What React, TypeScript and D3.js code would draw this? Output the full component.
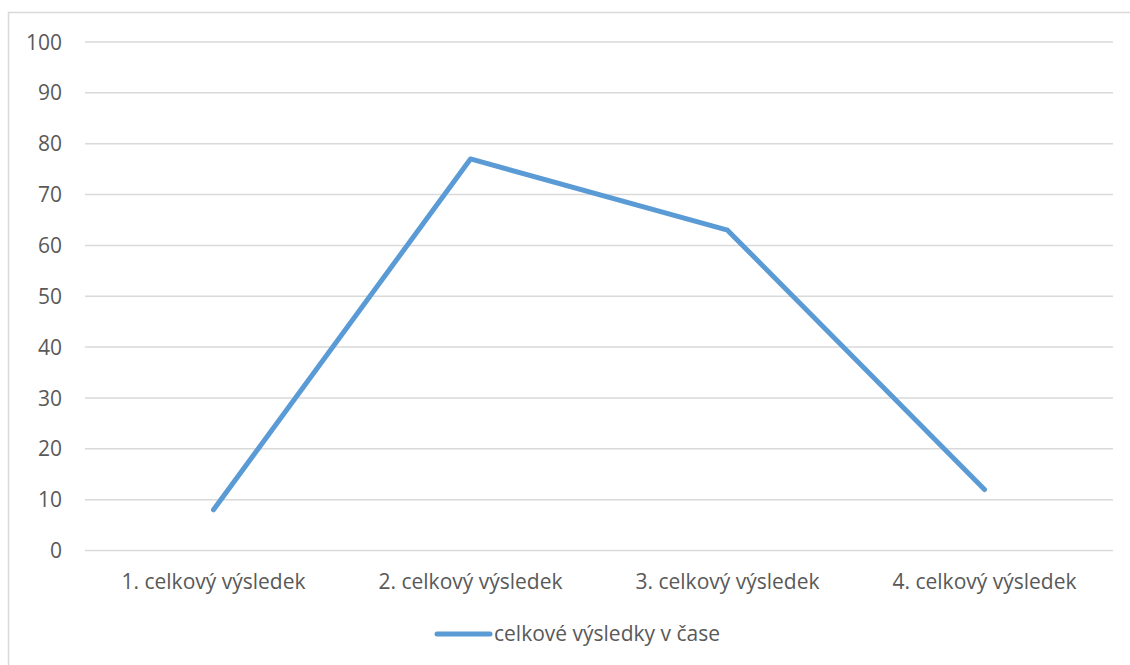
import React from "react";
import * as d3 from "d3";

const categories: string[] = [
  "1. celkový výsledek",
  "2. celkový výsledek",
  "3. celkový výsledek",
  "4. celkový výsledek",
];
const values: number[] = [8, 77, 63, 12];
const yTicks: number[] = [0, 10, 20, 30, 40, 50, 60, 70, 80, 90, 100];
const seriesName = "celkové výsledky v čase";

const W = 1130;
const H = 665;
const plot = { left: 85, right: 1113, top: 42, bottom: 550.5 };
const FONT = "'Open Sans', 'Noto Sans', sans-serif";
const TEXT = "#595959";
const BLUE = "#5B9BD5";
const FS = 21;

export default function App() {
  const x = d3
    .scaleBand<string>()
    .domain(categories)
    .range([plot.left, plot.right]);
  const y = d3.scaleLinear().domain([0, 100]).range([plot.bottom, plot.top]);
  const line = d3
    .line<number>()
    .x((_, i) => (x(categories[i]) as number) + x.bandwidth() / 2)
    .y((d) => y(d));

  return (
    <svg
      width={W}
      height={H}
      style={{ position: "absolute", left: 0, top: 0, background: "#fff" }}
      fontFamily={FONT}
    >
      <rect x={8.5} y={12.5} width={W} height={H} fill="#fff" stroke="#d9d9d9" strokeWidth={1.5} />
      {yTicks.map((t) => (
        <g key={t}>
          <line x1={plot.left} x2={plot.right} y1={y(t)} y2={y(t)} stroke="#d9d9d9" strokeWidth={1.5} />
          <text x={62} y={y(t)} dy="0.36em" textAnchor="end" fontSize={FS} fill={TEXT}>
            {t}
          </text>
        </g>
      ))}
      {categories.map((c) => (
        <text
          key={c}
          x={(x(c) as number) + x.bandwidth() / 2}
          y={589}
          textAnchor="middle"
          fontSize={FS}
          fill={TEXT}
        >
          {c}
        </text>
      ))}
      <path d={line(values) || ""} fill="none" stroke={BLUE} strokeWidth={5} strokeLinecap="round" strokeLinejoin="round" />
      <line x1={437} x2={490} y1={634} y2={634} stroke={BLUE} strokeWidth={5} strokeLinecap="round" />
      <text x={494} y={641} fontSize={FS} fill={TEXT}>
        {seriesName}
      </text>
    </svg>
  );
}
